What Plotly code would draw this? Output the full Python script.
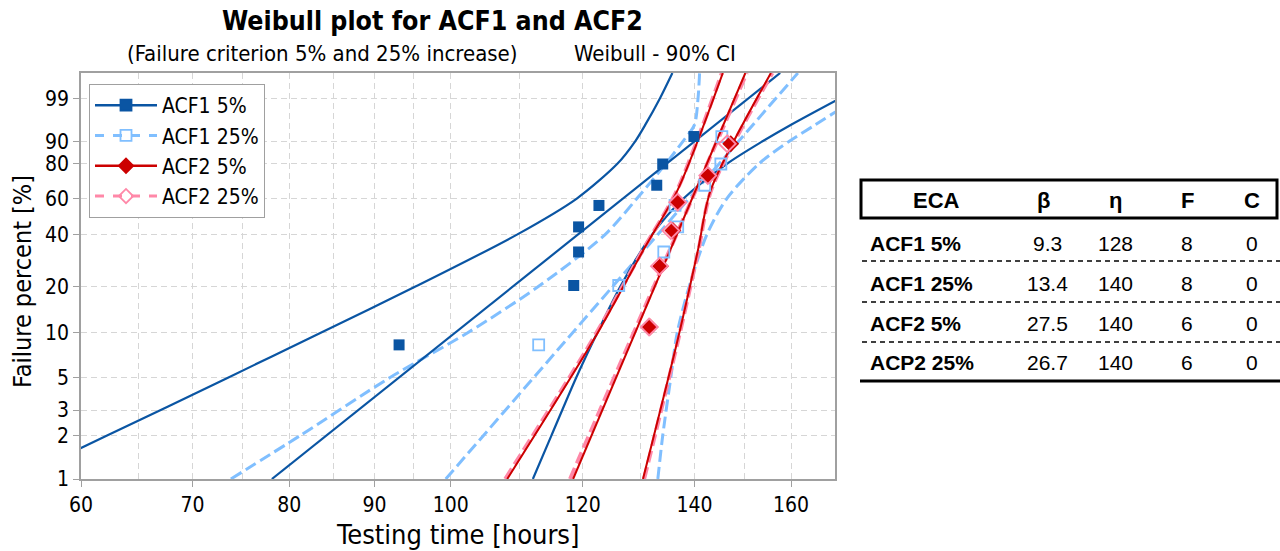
import numpy as np
import plotly.graph_objects as go

# ---------------- data ----------------
pct_rank_n8 = [8.33, 20.24, 32.14, 44.05, 55.95, 67.86, 79.76, 91.67]
pct_rank_n6 = [10.94, 26.56, 42.19, 57.81, 73.44, 89.06]

acf1_5_time = [93.1, 118.5, 119.3, 119.3, 122.7, 132.9, 134.0, 139.9]
acf1_25_time = [112.9, 126.1, 134.2, 136.8, 136.3, 142.0, 145.2, 145.4]
acf2_5_time = [131.7, 133.6, 135.9, 136.8, 142.8, 147.2]
acf2_25_time = [131.5, 133.4, 135.5, 136.8, 142.6, 146.5]

fit_pct = [1.0, 99.9]
acf1_5_fit_time = [78.1, 157.6]
acf1_25_fit_time = [99.3, 161.5]
acf2_5_fit_time = [118.4, 150.2]
acf2_25_fit_time = [117.9, 150.5]

# 90% confidence bounds (time read at percent levels)
ci_pct = [1, 2, 5, 10, 20, 40, 60, 80, 90, 95, 99, 99.9]
acf1_5_lo_time = [54.8, 62.2, 73.5, 83.5, 95.3, 109.5, 119.0, 125.9, 129.0, 130.8, 133.5, 135.8]
acf1_5_hi_time = [112.0, 114.9, 118.9, 122.4, 126.4, 132.0, 137.9, 146.5, 153.8, 159.9, 171.2]
acf1_25_lo_time = [73.8, 81.2, 91.9, 102.3, 112.9, 123.7, 129.3, 134.6, 137.8, 140.0, 140.7, 141.0]
acf1_25_hi_time = [133.1, 134.0, 135.5, 136.7, 139.0, 142.4, 146.4, 153.1, 159.6, 165.4, 175.2]

acf2_ci_pct = [1.0, 9.0, 33.1, 65.1, 99.9]
acf2_5_lo_time = [108.1, 121.8, 130.5, 136.8, 145.6]
acf2_5_hi_time = [130.4, 136.8, 140.7, 143.2, 155.6]
acf2_25_lo_time = [107.8, 121.6, 130.4, 136.7, 145.4]
acf2_25_hi_time = [130.6, 136.9, 140.8, 143.3, 155.9]

x_tick_vals = [60, 70, 80, 90, 100, 120, 140, 160]
x_minor_vals = [65, 75, 85, 95, 110, 130, 150]
y_tick_pct = [1, 2, 3, 5, 10, 20, 40, 60, 80, 90, 99]

eca_labels = ["ACF1 5%", "ACF1 25%", "ACF2 5%", "ACP2 25%"]
beta_vals = ["9.3", "13.4", "27.5", "26.7"]
eta_vals = ["128", "140", "140", "140"]
f_vals = ["8", "8", "6", "6"]
c_vals = ["0", "0", "0", "0"]
table_header = ["ECA", "β", "η", "F", "C"]

# ---------------- styling ----------------
DARK = "#0a55a3"
LIGHT = "#80bfff"
RED = "#cc0000"
PINK = "#ff88a8"
FONT = "DejaVu Sans Condensed, DejaVu Sans, sans-serif"
TFONT = "Liberation Sans, Arial, sans-serif"


def wscale(p):
    """Weibull probability scale (axis transform)."""
    p = np.asarray(p, dtype=float) / 100.0
    return np.log(-np.log(1.0 - p))


fig = go.Figure()


def curve(t, p, color, dash, width, shape="spline"):
    n = min(len(t), len(p))
    fig.add_trace(go.Scatter(
        x=list(t)[:n], y=wscale(list(p)[:n]), mode="lines", showlegend=False, hoverinfo="skip",
        line=dict(color=color, dash=dash, width=width, shape=shape, smoothing=0.8)))


DASH = "12px,5px"
# ACF1 25% (light blue dashed)
curve(acf1_25_lo_time, ci_pct, LIGHT, DASH, 3)
curve(acf1_25_hi_time, ci_pct, LIGHT, DASH, 3)
curve(acf1_25_fit_time, fit_pct, LIGHT, DASH, 3, "linear")
# ACF1 5% (dark blue)
curve(acf1_5_lo_time, ci_pct, DARK, "solid", 2.2)
curve(acf1_5_hi_time, ci_pct, DARK, "solid", 2.2)
curve(acf1_5_fit_time, fit_pct, DARK, "solid", 2.2, "linear")
# ACF2 25% (pink dashed)
curve(acf2_25_lo_time, acf2_ci_pct, PINK, DASH, 4)
curve(acf2_25_hi_time, acf2_ci_pct, PINK, DASH, 4)
curve(acf2_25_fit_time, fit_pct, PINK, DASH, 4, "linear")
# ACF2 5% (red)
curve(acf2_5_lo_time, acf2_ci_pct, RED, "solid", 2)
curve(acf2_5_hi_time, acf2_ci_pct, RED, "solid", 2)
curve(acf2_5_fit_time, fit_pct, RED, "solid", 2, "linear")

# points
fig.add_trace(go.Scatter(x=acf1_5_time, y=wscale(pct_rank_n8), mode="markers", showlegend=False,
                         marker=dict(symbol="square", size=11, color=DARK)))
fig.add_trace(go.Scatter(x=acf1_25_time, y=wscale(pct_rank_n8), mode="markers", showlegend=False,
                         marker=dict(symbol="square-open", size=11, color=LIGHT, line=dict(width=1.8))))
fig.add_trace(go.Scatter(x=acf2_5_time, y=wscale(pct_rank_n6), mode="markers", showlegend=False,
                         marker=dict(symbol="diamond", size=13, color=RED)))
fig.add_trace(go.Scatter(x=acf2_25_time, y=wscale(pct_rank_n6), mode="markers", showlegend=False,
                         marker=dict(symbol="diamond-open", size=13, color=PINK, line=dict(width=1.8))))

# legend entries
legend_specs = [
    ("ACF1 5%", DARK, "solid", "square", 2.5),
    ("ACF1 25%", LIGHT, "dash", "square-open", 3),
    ("ACF2 5%", RED, "solid", "diamond", 2.5),
    ("ACF2 25%", PINK, "dash", "diamond-open", 3),
]
for i, (name, col, dsh, sym, lw) in enumerate(legend_specs):
    fig.add_trace(go.Scatter(
        x=[None], y=[None], mode="lines+markers", name=name, legendgroup=f"g{i}",
        line=dict(color=col, dash=dsh, width=lw),
        marker=dict(symbol=sym, size=11, color=col, line=dict(width=1.8, color=col))))

# ---------------- layout ----------------
W, H = 1280, 551
PL, PR, PT, PB = 81, 835, 73, 479


def pxx(x):
    return (x - PL) / (PR - PL)


def pxy(y):
    return (PB - y) / (PB - PT)


GRID = "#d6d6d6"
AXC = "#a0a0a0"

fig.update_layout(
    width=W, height=H, autosize=False,
    margin=dict(l=PL, r=W - PR, t=PT, b=H - PB),
    paper_bgcolor="white", plot_bgcolor="white",
    font=dict(family=FONT, size=21, color="black"),
    showlegend=True,
    legend=dict(x=pxx(89), y=pxy(84), xanchor="left", yanchor="top",
                bgcolor="white", bordercolor=AXC, borderwidth=1,
                font=dict(family=FONT, size=21), traceorder="grouped",
                tracegroupgap=0, itemwidth=62),
    xaxis=dict(type="log", range=[np.log10(60), np.log10(170)],
               tickmode="array", tickvals=x_tick_vals, ticktext=[str(v) for v in x_tick_vals],
               showgrid=True, gridcolor=GRID, griddash="6px,4px", gridwidth=1,
               minor=dict(tickmode="array", tickvals=x_minor_vals, showgrid=True,
                          gridcolor=GRID, griddash="6px,4px", gridwidth=1),
               showline=True, linecolor=AXC, linewidth=1.5, mirror=True,
               ticks="outside", ticklen=6, tickcolor=AXC, zeroline=False,
               tickfont=dict(family=FONT, size=21)),
    yaxis=dict(range=[float(wscale(1)), float(wscale(99.9))],
               tickmode="array", tickvals=list(wscale(y_tick_pct)),
               ticktext=[str(v) for v in y_tick_pct],
               showgrid=True, gridcolor=GRID, griddash="6px,4px", gridwidth=1,
               showline=True, linecolor=AXC, linewidth=1.5, mirror=True,
               ticks="outside", ticklen=6, tickcolor=AXC, zeroline=False,
               tickfont=dict(family=FONT, size=21)),
)

ann = []
ann.append(dict(text="<b>Weibull plot for ACF1 and ACF2</b>", x=pxx(432), y=pxy(21),
                font=dict(family=FONT, size=26.5)))
ann.append(dict(text="(Failure criterion 5% and 25% increase)", x=pxx(322), y=pxy(53),
                font=dict(family=FONT, size=22)))
ann.append(dict(text="Weibull - 90% CI", x=pxx(655), y=pxy(53),
                font=dict(family=FONT, size=22)))
ann.append(dict(text="Testing time [hours]", x=pxx(458), y=pxy(534),
                font=dict(family=FONT, size=27)))
ann.append(dict(text="Failure percent [%]", x=pxx(22), y=pxy(282), textangle=-90,
                font=dict(family=FONT, size=25)))

# table
col_x = [937, 1043, 1115, 1187, 1252]
for cx, h in zip(col_x, table_header):
    ann.append(dict(text=f"<b>{h}</b>", x=pxx(cx), y=pxy(200),
                    font=dict(family=TFONT, size=22)))
row_y = [243, 283, 323, 362]
for ry, lab, b, e, f, c in zip(row_y, eca_labels, beta_vals, eta_vals, f_vals, c_vals):
    ann.append(dict(text=f"<b>{lab}</b>", x=pxx(868), y=pxy(ry), xanchor="left",
                    font=dict(family=TFONT, size=21)))
    for cx, v in zip(col_x[1:], [b, e, f, c]):
        ann.append(dict(text=v, x=pxx(cx + (4 if cx == 1043 else 0)), y=pxy(ry),
                        font=dict(family=TFONT, size=21)))

for a in ann:
    a.setdefault("xanchor", "center")
    a.update(xref="paper", yref="paper", yanchor="middle", showarrow=False)
fig.update_layout(annotations=ann)

shapes = [
    dict(type="rect", x0=pxx(861), x1=pxx(1277), y0=pxy(180), y1=pxy(218),
         line=dict(color="black", width=3)),
    dict(type="line", x0=pxx(860), x1=pxx(1282), y0=pxy(381), y1=pxy(381),
         line=dict(color="black", width=3)),
]
for ly in [261, 302, 342]:
    shapes.append(dict(type="line", x0=pxx(862), x1=pxx(1282), y0=pxy(ly), y1=pxy(ly),
                       line=dict(color="black", width=1.5, dash="5px,4px")))
for s in shapes:
    s.update(xref="paper", yref="paper")
fig.update_layout(shapes=shapes)

fig.write_html("out.html", config={"displayModeBar": False},
               post_script="document.body.style.margin='0px';document.body.style.overflow='hidden';")
